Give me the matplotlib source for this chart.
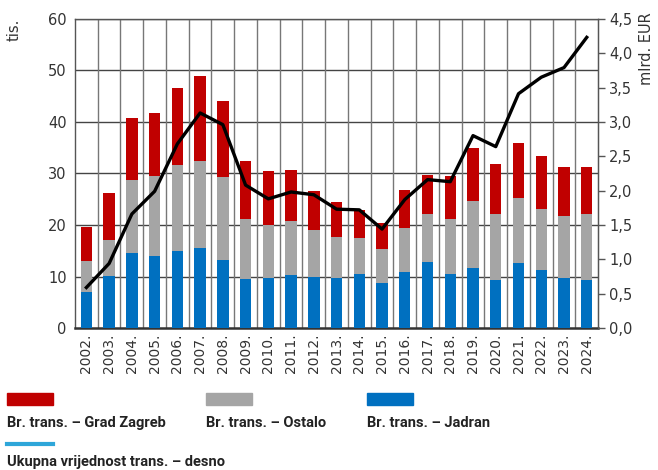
import numpy as np
import matplotlib.pyplot as plt
from matplotlib.patches import Rectangle
from matplotlib.lines import Line2D

# Data
years = [f"{y}." for y in range(2002, 2025)]
jadran = [7.0, 10.1, 14.6, 14.0, 15.0, 15.5, 13.3, 9.6, 9.8, 10.3, 9.9, 9.8,
          10.4, 8.8, 10.9, 12.9, 10.4, 11.6, 9.3, 12.6, 11.3, 9.8, 9.3]
ostalo_top = [13.0, 17.0, 28.7, 29.5, 31.7, 32.5, 29.3, 21.1, 19.9, 20.7, 19.0, 17.6,
              17.5, 15.3, 19.5, 22.1, 21.1, 24.6, 22.1, 25.2, 23.1, 21.7, 22.1]
ukupno_br = [19.6, 26.3, 40.7, 41.7, 46.6, 48.9, 44.1, 32.4, 30.4, 30.6, 26.6, 24.5,
             23.0, 20.3, 26.7, 29.7, 29.5, 35.0, 31.9, 35.9, 33.3, 31.2, 31.3]
vrijednost = [0.59, 0.94, 1.66, 1.99, 2.68, 3.13, 2.96, 2.08, 1.88, 1.98, 1.94, 1.73,
              1.72, 1.44, 1.87, 2.16, 2.13, 2.80, 2.64, 3.41, 3.65, 3.79, 4.23]

jadran = np.array(jadran)
ostalo = np.array(ostalo_top) - jadran
zagreb = np.array(ukupno_br) - np.array(ostalo_top)

red = '#c00000'
gray = '#a5a5a5'
blue = '#0070c0'
cyan = '#2ea6d9'
txt = '#333333'

plt.rcParams['font.family'] = 'DejaVu Sans'

fig = plt.figure(figsize=(6.58, 4.70), dpi=100)
ax = fig.add_axes([0.114, 0.302, 0.795, 0.658])
x = np.arange(len(years))
w = 0.5

ax.bar(x, jadran, w, color=blue, zorder=3)
ax.bar(x, ostalo, w, bottom=jadran, color=gray, zorder=3)
ax.bar(x, zagreb, w, bottom=np.array(ostalo_top), color=red, zorder=3)

ax.set_xlim(-0.5, len(years) - 0.5)
ax.set_ylim(0, 60)
ax.set_yticks(range(0, 61, 10))
ax.set_xticks(x)
ax.set_xticklabels(years, rotation=90, fontsize=10, color=txt)
ax.tick_params(axis='x', length=0, pad=4)
ax.tick_params(axis='y', length=0, labelsize=10.5, labelcolor=txt, pad=6)

# grid
for yv in range(10, 61, 10):
    ax.axhline(yv, color='#444444', lw=1.0, zorder=1)
for xv in np.arange(0.5, len(years) - 1, 1):
    ax.axvline(xv, color='#777777', lw=1.0, zorder=1)
for s in ['left', 'right', 'top']:
    ax.spines[s].set_color('#555555')
    ax.spines[s].set_linewidth(1.0)
ax.spines['bottom'].set_color('#333333')
ax.spines['bottom'].set_linewidth(1.8)

ax2 = ax.twinx()
ax2.plot(x, vrijednost, color='black', lw=2.4, zorder=5)
ax2.set_ylim(0, 4.5)
ax2.set_yticks(np.arange(0, 4.51, 0.5))
ax2.set_yticklabels([f"{v:.1f}".replace('.', ',') for v in np.arange(0, 4.51, 0.5)])
ax2.tick_params(axis='y', length=5, width=1, color='#555555', labelsize=10.5,
                labelcolor=txt, pad=3)
for s in ['left', 'right', 'top', 'bottom']:
    ax2.spines[s].set_visible(False)
ax2.spines['right'].set_visible(True)
ax2.spines['right'].set_color('#555555')

fig.text(0.022, 0.96, 'tis.', rotation=90, ha='center', va='top', fontsize=10.5, color=txt)
fig.text(0.982, 0.82, 'mlrd. EUR', rotation=90, ha='center', va='bottom', fontsize=10.5, color=txt)

# legend
lf = dict(fontsize=10.5, fontweight='bold', color='#222222', family='Roboto')
fig.add_artist(Rectangle((7 / 658, 1 - 405 / 470), 46 / 658, 12 / 470, color=red, transform=fig.transFigure))
fig.add_artist(Rectangle((206 / 658, 1 - 405 / 470), 46 / 658, 12 / 470, color=gray, transform=fig.transFigure))
fig.add_artist(Rectangle((367 / 658, 1 - 405 / 470), 46 / 658, 12 / 470, color=blue, transform=fig.transFigure))
fig.add_artist(Line2D([7 / 658, 53 / 658], [1 - 444 / 470] * 2, color=cyan, lw=3, transform=fig.transFigure))
fig.text(7 / 658, 1 - 423 / 470, 'Br. trans. – Grad Zagreb', va='center', **lf)
fig.text(206 / 658, 1 - 423 / 470, 'Br. trans. – Ostalo', va='center', **lf)
fig.text(367 / 658, 1 - 423 / 470, 'Br. trans. – Jadran', va='center', **lf)
fig.text(7 / 658, 1 - 462 / 470, 'Ukupna vrijednost trans. – desno', va='center', **lf)

fig.savefig('out.png', dpi=100)
